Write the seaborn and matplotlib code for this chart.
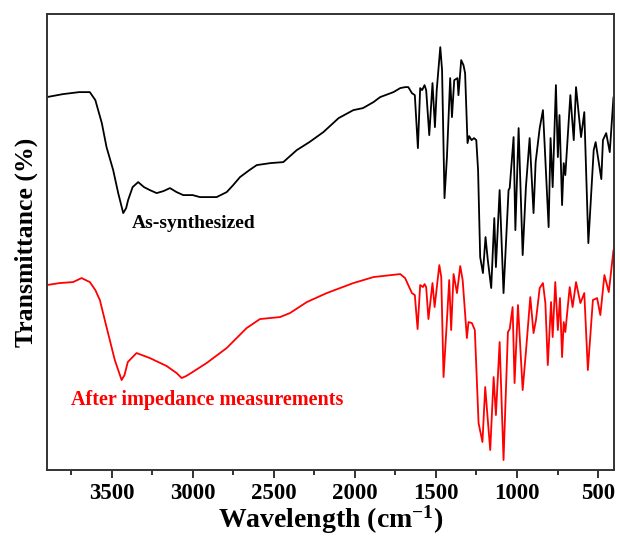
import numpy as np
import pandas as pd
import matplotlib
matplotlib.use("Agg")
import matplotlib.pyplot as plt
import seaborn as sns

# FTIR spectra, wavenumber (cm^-1) and transmittance (arbitrary units, offset traces)
wn_synth = [3900, 3800, 3700, 3634, 3600, 3560, 3531, 3490, 3459, 3428, 3410, 3398,
            3370, 3336, 3300, 3264, 3222, 3180, 3140, 3099, 3058, 3000, 2955, 2900,
            2852, 2790, 2750, 2708, 2650, 2605, 2520, 2441, 2358, 2280, 2194, 2100,
            2009, 1950, 1885, 1844, 1762, 1720, 1690, 1670, 1648, 1630, 1611, 1597,
            1585, 1570, 1560, 1541, 1521, 1506, 1495, 1473, 1462, 1447, 1432, 1412,
            1401, 1387, 1367, 1361, 1344, 1330, 1320, 1305, 1295, 1280, 1265, 1251,
            1240, 1227, 1210, 1194, 1180, 1159, 1140, 1130, 1107, 1083, 1052, 1045,
            1021, 1010, 990, 965, 945, 922, 898, 885, 860, 840, 830, 805, 793, 780,
            760, 748, 738, 722, 712, 702, 671, 650, 636, 605, 585, 560, 527, 515,
            480, 470, 450, 428, 405]
t_synth = [373, 376, 378, 378, 370, 347, 323, 300, 277, 257, 262, 270,
           283, 288, 283, 280, 277, 279, 282, 278, 275, 275, 273, 273,
           273, 278, 285, 293, 300, 305, 307, 308, 320, 328, 338, 352,
           360, 362, 368, 373, 378, 382, 383, 383, 377, 375, 322, 382,
           380, 385, 380, 335, 387, 343, 380, 423, 400, 272, 313, 392,
           353, 390, 392, 375, 410, 405, 397, 327, 334, 330, 332, 330,
           300, 213, 197, 233, 210, 182, 252, 203, 280, 177, 280, 282,
           333, 240, 342, 215, 283, 332, 257, 308, 342, 360, 327, 243, 332, 283,
           385, 313, 355, 265, 307, 295, 375, 330, 383, 333, 358, 227, 320, 328,
           291, 330, 337, 318, 373]

wn_after = [3900, 3820, 3737, 3685, 3634, 3600, 3572, 3531, 3480, 3438, 3420, 3400,
            3346, 3264, 3160, 3099, 3068, 3040, 3010, 2914, 2790, 2667, 2585, 2461,
            2400, 2296, 2173, 2009, 1885, 1720, 1690, 1648, 1630, 1613, 1597, 1580,
            1570, 1560, 1546, 1521, 1508, 1479, 1467, 1453, 1432, 1418, 1406, 1391,
            1370, 1350, 1335, 1309, 1299, 1278, 1260, 1237, 1213, 1196, 1180, 1165,
            1144, 1130, 1107, 1083, 1056, 1045, 1027, 1015, 994, 965, 944, 918, 898,
            883, 860, 840, 825, 810, 790, 780, 764, 748, 735, 722, 712, 702, 675,
            657, 636, 609, 585, 563, 532, 506, 486, 461, 434, 405]
t_after = [185, 187, 188, 192, 188, 180, 170, 143, 110, 90, 95, 108,
           117, 112, 104, 97, 92, 94, 97, 107, 122, 142, 151, 153,
           157, 168, 177, 187, 193, 196, 192, 177, 175, 141, 185, 183,
           186, 183, 151, 187, 163, 205, 193, 93, 150, 190, 140, 196,
           177, 204, 190, 132, 148, 147, 140, 47, 28, 83, 50, 20,
           93, 55, 128, 10, 138, 141, 163, 87, 165, 80, 120, 173, 137,
           150, 182, 187, 167, 105, 168, 133, 188, 140, 172, 113, 148, 138, 183,
           163, 188, 167, 177, 100, 170, 172, 155, 195, 178, 220]

labels = ["As-synthesized", "After impedance measurements"]
colors = ["black", "red"]
x_ticks = [3500, 3000, 2500, 2000, 1500, 1000, 500]

df = pd.concat([
    pd.DataFrame({"wavenumber": wn_synth, "T": t_synth, "sample": labels[0]}),
    pd.DataFrame({"wavenumber": wn_after, "T": t_after, "sample": labels[1]}),
])

sns.set_theme(style="ticks")
plt.rcParams["font.family"] = ["Liberation Serif", "DejaVu Serif"]
plt.rcParams["font.weight"] = "bold"
plt.rcParams["mathtext.fontset"] = "custom"
plt.rcParams["mathtext.rm"] = "Liberation Serif:bold"
plt.rcParams["mathtext.bf"] = "Liberation Serif:bold"
plt.rcParams["mathtext.default"] = "rm"
plt.rcParams["text.color"] = "black"
plt.rcParams["axes.labelcolor"] = "black"

fig = plt.figure(figsize=(6.2, 5.44), dpi=100)
ax = fig.add_axes([0.0753, 0.136, 0.9155, 0.838])

for name, col in zip(labels, colors):
    sns.lineplot(data=df[df["sample"] == name], x="wavenumber", y="T",
                 color=col, lw=1.3, estimator=None, ax=ax, legend=False)

ax.set_xlim(3900, 400)
ax.set_ylim(0, 456)
ax.set_xticks(x_ticks)
ax.set_xticks([3750, 3250, 2750, 2250, 1750, 1250, 750], minor=True)
ax.set_yticks([])
ax.tick_params(axis="x", which="major", direction="out", length=6, width=1.3,
               labelsize=16.5, pad=3, color="#222222", labelcolor="black")
ax.tick_params(axis="x", which="minor", direction="out", length=3.5, width=1.3,
               color="#222222")
for lab in ax.get_xticklabels():
    lab.set_fontweight("bold")
for sp in ax.spines.values():
    sp.set_visible(True)
    sp.set_linewidth(1.4)
    sp.set_color("#333333")

ax.set_xlabel("Wavelength (cm$^{\\mathrm{-1}}$)", fontsize=20, fontweight="bold",
              labelpad=0)
ax.set_ylabel("Transmittance (%)", fontsize=18.5, fontweight="bold", labelpad=6)

ax.text(3377, 247, labels[0], color="black", fontsize=14, fontweight="bold",
        ha="left", va="center")
ax.text(3747, 70, labels[1], color="red", fontsize=14.5, fontweight="bold",
        ha="left", va="center")

fig.savefig("out.png", dpi=100)
